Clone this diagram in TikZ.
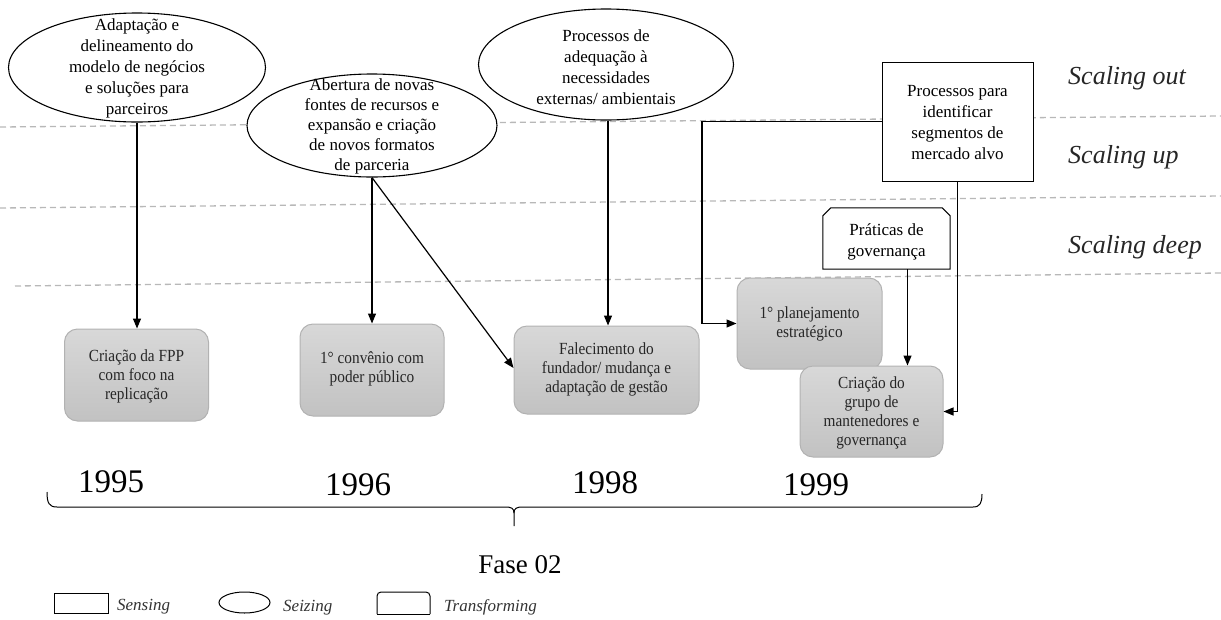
\documentclass[tikz,border=0pt]{standalone}
\usepackage{fontspec}
\setmainfont{Liberation Serif}
\newfontfamily\boxfont[FakeStretch=0.9]{Liberation Serif}
\usetikzlibrary{shapes.geometric,arrows.meta}

\definecolor{boxtop}{HTML}{D8D8D8}
\definecolor{boxbot}{HTML}{C2C2C2}
\definecolor{boxline}{HTML}{B2B2B2}
\definecolor{dashgray}{HTML}{B8B8B8}

\tikzset{
  seize/.style={ellipse, draw, line width=1.1pt, fill=white, inner sep=0pt},
  sense/.style={rectangle, draw, line width=1pt, fill=white, inner sep=0pt},
  txt/.style={align=center, inner sep=0pt, font=\fontsize{17}{21}\selectfont},
  event/.style={rectangle, rounded corners=13pt, draw=boxline, line width=1pt,
    top color=boxtop, bottom color=boxbot, inner sep=0pt},
  evtxt/.style={align=center, inner sep=0pt, font=\boxfont\fontsize{17}{19}\selectfont, text=black!85},
  conn/.style={line width=1.2pt, -{Triangle[length=10pt,width=8pt]}},
  layer/.style={dashgray, line width=1.3pt, dash pattern=on 6pt off 4pt},
  scalelbl/.style={anchor=base west, inner sep=0pt, font=\itshape\fontsize{26}{30}\selectfont, text=black!85},
  year/.style={anchor=base, inner sep=0pt, font=\fontsize{33}{36}\selectfont},
  lgtxt/.style={anchor=base west, inner sep=0pt, font=\itshape\fontsize{17}{19}\selectfont, text=black!80},
}

\begin{document}
\begin{tikzpicture}[x=1pt, y=-1pt]
\useasboundingbox (0,0) rectangle (1221,619);

% layer separators
\draw[layer] (0,127) -- (1221,116);
\draw[layer] (0,208) -- (1221,196);
\draw[layer] (15,286) -- (1221,273);

% layer names
\node[scalelbl] (lout)  at (1068,84)  {Scaling out};
\node[scalelbl] (lup)   at (1068,163) {Scaling up};
\node[scalelbl] (ldeep) at (1068,253) {Scaling deep};

% seizing ellipses
\node[seize, minimum width=257pt, minimum height=109pt] (e1) at (137,67.5) {};
\node[txt] (e1t) at (137,68) {Adaptação e\\delineamento do\\modelo de negócios\\e soluções para\\parceiros};

\node[seize, minimum width=250pt, minimum height=103pt] (e2) at (372,125.5) {};
\node[txt, font=\fontsize{17}{20}\selectfont] (e2t) at (372,126) {Abertura de novas\\fontes de recursos e\\expansão e criação\\de novos formatos\\de parceria};

\node[seize, minimum width=255pt, minimum height=111pt] (e3) at (606,64.5) {};
\node[txt] (e3t) at (606,67) {Processos de\\adequação à\\necessidades\\externas/ ambientais};

% sensing box
\node[sense, minimum width=151pt, minimum height=119pt] (r) at (957.5,121.5) {};
\node[txt] (rt) at (957.5,123) {Processos para\\identificar\\segmentos de\\mercado alvo};

% transforming box (cut top corners)
\node[minimum width=127pt, minimum height=61pt, inner sep=0pt] (p) at (886.5,238.5) {};
\draw[line width=1pt, fill=white]
  ([xshift=8pt]p.north west) -- ([xshift=-8pt]p.north east)
  -- ([yshift=-8pt]p.north east) -- (p.south east) -- (p.south west)
  -- ([yshift=-8pt]p.north west) -- cycle;
\node[txt] (pt) at (886.5,242) {Práticas de\\governança};

% events
\node[event, minimum width=144pt, minimum height=92pt] (b1) at (136.5,375) {};
\node[evtxt] (b1t) at (136.5,376) {Criação da FPP\\com foco na\\replicação};

\node[event, minimum width=144pt, minimum height=92pt] (b2) at (372,370) {};
\node[evtxt] (b2t) at (372,369) {1° convênio com\\poder público};

\node[event, minimum width=185pt, minimum height=88pt] (b3) at (606.5,370) {};
\node[evtxt] (b3t) at (606.5,369) {Falecimento do\\fundador/ mudança e\\adaptação de gestão};

\node[event, minimum width=145pt, minimum height=91pt] (b4) at (809.5,323.5) {};
\node[evtxt] (b4t) at (809.5,324) {1° planejamento\\estratégico};

\node[event, minimum width=143pt, minimum height=91pt] (b5) at (871.5,411.5) {};
\node[evtxt] (b5t) at (871.5,413) {Criação do\\grupo de\\mantenedores e\\governança};

% connectors
\draw[conn] (e1.south) -- (e1.south |- b1.north);
\draw[conn] (e2.south) -- (e2.south |- b2.north);
\draw[conn] (e2.south) -- ([yshift=2pt]b3.west);
\draw[conn] ([xshift=2pt]e3.south) -- ([xshift=2pt]e3.south |- b3.north);
\coordinate (bend) at (702,121.5);
\draw[conn] (r.west) -- (r.west -| bend) |- (b4.west);
\draw[conn] (r.south) |- (b5.east);
\draw[conn] ([xshift=21pt]p.south) -- ([xshift=21pt]p.south |- b5.north);

% years
\node[year] (y95) at (111,492) {1995};
\node[year] (y96) at (358,495) {1996};
\node[year] (y98) at (605,493) {1998};
\node[year] (y99) at (816,495) {1999};

% phase brace
\draw[line width=1pt]
  (47,492) .. controls (47,503) and (49,507) .. (57,507) -- (505,507)
  .. controls (511,507) and (514,508) .. (514,513) -- (514,526);
\draw[line width=1pt]
  (514,513) .. controls (514,508) and (517,507) .. (523,507) -- (973,507)
  .. controls (980,507) and (982,503) .. (982,494);
\node[anchor=base, inner sep=0pt, font=\fontsize{27}{30}\selectfont] (fase) at (520,573) {Fase 02};

% legend
\node[sense, minimum width=54pt, minimum height=20pt] (lsense) at (81,603) {};
\node[lgtxt] (lsenset) at (117,610) {Sensing};
\node[seize, line width=1pt, minimum width=51pt, minimum height=21pt] (lseize) at (244.5,602.5) {};
\node[lgtxt] (lseizet) at (283,611) {Seizing};
\draw[line width=1pt, rounded corners=4pt] (377,614) -- (377,592) -- (430,592) -- (430,614);
\draw[line width=1pt] (377,614) -- (430,614);
\node[lgtxt] (ltranst) at (444,611) {Transforming};
\end{tikzpicture}
\end{document}
